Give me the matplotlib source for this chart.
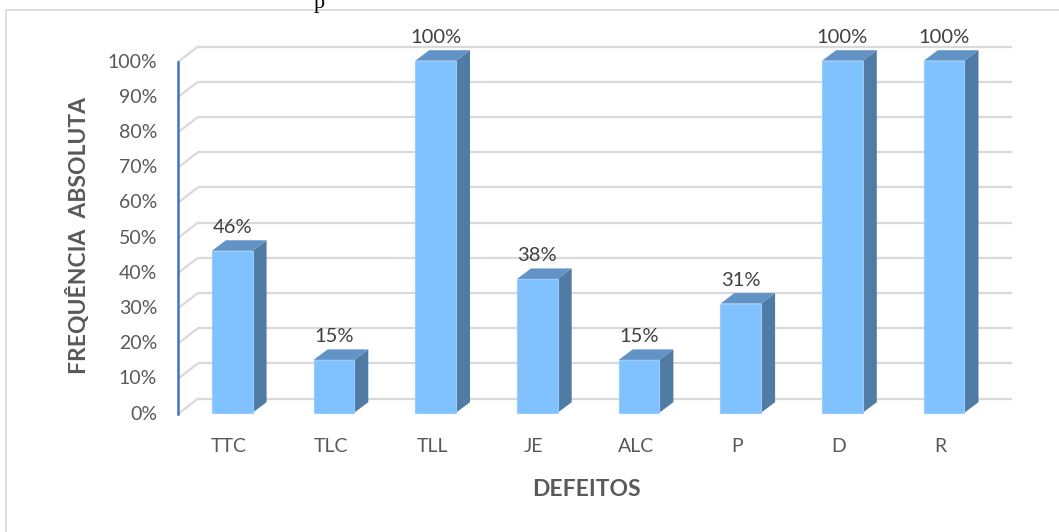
import matplotlib
matplotlib.use("Agg")
import matplotlib.pyplot as plt
from matplotlib.patches import Polygon, Rectangle

plt.rcParams['font.family'] = ['Lato', 'DejaVu Sans']

# dados do gráfico
defeitos = ["TTC", "TLC", "TLL", "JE", "ALC", "P", "D", "R"]
frequencia = [46, 15, 100, 38, 15, 31, 100, 100]
niveis = list(range(0, 101, 10))

W, H = 1059, 532
cor_frente = "#80C1FF"
cor_lado = "#507BA5"
cor_topo = "#6293C7"
cor_grade = "#D9D9D9"
cor_texto = "#595959"
cor_rotulo = "#404040"

fig = plt.figure(figsize=(W / 100, H / 100), dpi=100)
fig.patch.set_facecolor("white")

# eixo frontal em pixels: x 178..991.6, y 414..62
esq, dir_, base, topo = 178, 991.6, 414, 62
ax = fig.add_axes([esq / W, (H - base) / H, (dir_ - esq) / W, (base - topo) / H])
ax.set_xlim(-0.5, len(defeitos) - 0.5)
ax.set_ylim(0, 100)
ax.axis("off")

sx = len(defeitos) / (dir_ - esq)   # categorias por pixel
sy = 100 / (base - topo)           # % por pixel

# profundidade da parede e das barras
wdx, wdy = 20 * sx, 15.5 * sy
fox, foy = 3.4 * sx, 1.3 * sy
bdx, bdy = 14 * sx, 10.5 * sy
larg = 0.4

# grade na parede de fundo
x_ini = -0.5
x_fim = len(defeitos) - 0.5
for lv in niveis:
    ax.plot([x_ini, x_ini + wdx], [lv, lv + wdy], color=cor_grade, lw=1.6,
            clip_on=False, zorder=1, solid_capstyle="butt")
    ax.plot([x_ini + wdx, x_fim + wdx], [lv + wdy, lv + wdy], color=cor_grade,
            lw=1.6, clip_on=False, zorder=1, solid_capstyle="butt")

# eixo vertical azul
ax.plot([x_ini, x_ini], [0, 100], color="#4472C4", lw=1.8, clip_on=False, zorder=2)

# barras 3D
for i, v in enumerate(frequencia):
    x0 = i - larg / 2 + fox
    y0 = foy
    lado = Polygon([(x0 + larg, y0), (x0 + larg + bdx, y0 + bdy),
                    (x0 + larg + bdx, y0 + v + bdy), (x0 + larg, y0 + v)],
                   closed=True, facecolor=cor_lado, edgecolor="none",
                   clip_on=False, zorder=3)
    cima = Polygon([(x0, y0 + v), (x0 + larg, y0 + v),
                    (x0 + larg + bdx, y0 + v + bdy), (x0 + bdx, y0 + v + bdy)],
                   closed=True, facecolor=cor_topo, edgecolor="none",
                   clip_on=False, zorder=3)
    frente = Rectangle((x0, y0), larg, v, facecolor=cor_frente,
                       edgecolor="#9ACDFF", lw=0.8, clip_on=False, zorder=4)
    ax.add_patch(lado)
    ax.add_patch(cima)
    ax.add_patch(frente)
    ax.annotate(f"{v}%", (i + fox, y0 + v + bdy), xytext=(0, 5),
                textcoords="offset points", ha="center", va="baseline",
                fontsize=14.5, color=cor_rotulo, annotation_clip=False)

# rótulos do eixo y
for lv in niveis:
    ax.text(x_ini - 21 * sx, lv, f"{lv}%", ha="right", va="center",
            fontsize=14, color=cor_texto, clip_on=False)

# rótulos das categorias
for i, d in enumerate(defeitos):
    ax.text(i, -33 * sy, d, ha="center", va="center", fontsize=14,
            color=cor_texto, clip_on=False)

fig.text(78 / W, 1 - 235 / H, "FREQUÊNCIA  ABSOLUTA", rotation=90,
         ha="center", va="center", fontsize=16.5, fontweight="bold",
         color=cor_texto)
fig.text(586 / W, 1 - 489 / H, "DEFEITOS", ha="center", va="center",
         fontsize=16.5, fontweight="bold", color=cor_texto)

# moldura da área do gráfico
fig.add_artist(Rectangle((5.5 / W, -0.05), 1.2, 1.05 - 10 / H,
                         transform=fig.transFigure, fill=False,
                         edgecolor=cor_grade, lw=1.2))

# resto da legenda acima, cortada
fig.text(319 / W, 1 - 8 / H, "p", ha="center", va="baseline", fontsize=16,
         family="Liberation Serif", color="black")

fig.savefig("out.png", dpi=100, facecolor="white")
